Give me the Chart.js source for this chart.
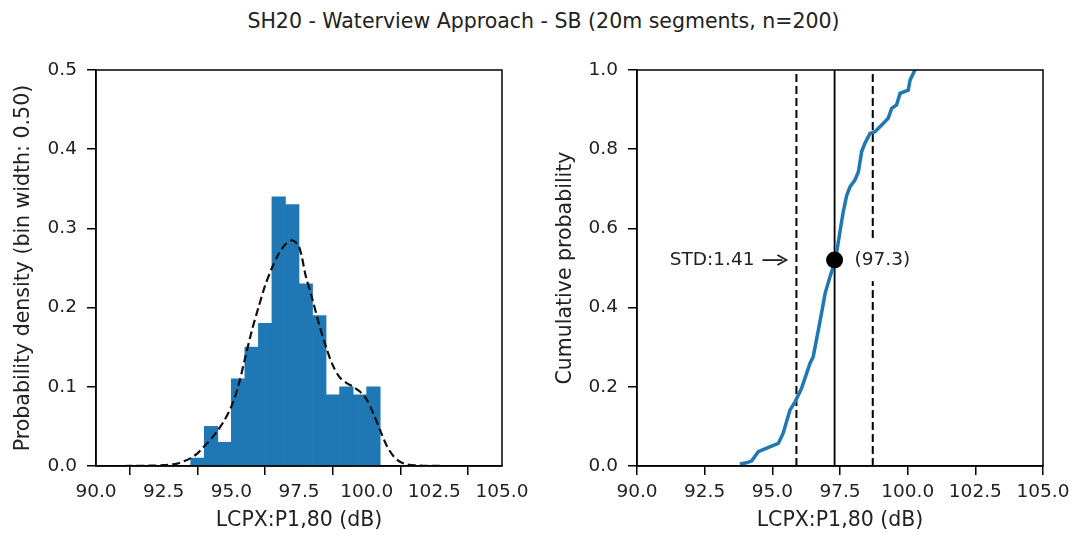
<!DOCTYPE html>
<html>
<head>
<meta charset="utf-8">
<script src="https://cdn.jsdelivr.net/npm/chart.js@4.4.0/dist/chart.umd.min.js"></script>
<style>
  body { margin: 0; background: #fff; }
  .page { position: relative; width: 1078px; height: 535px; font-family: "DejaVu Sans", sans-serif; }
  .title { position: absolute; left: 0; width: 1087px; top: 9px; text-align: center; font-size: 20.5px; color: #222; white-space: nowrap; }
  canvas { position: absolute; top: 0; }
  #hist { left: 0; }
  #cdf { left: 540px; }
</style>
</head>
<body>
<div class="page">
  <div class="title">SH20 - Waterview Approach - SB (20m segments, n=200)</div>
  <canvas id="hist" width="540" height="535"></canvas>
  <canvas id="cdf" width="538" height="535"></canvas>
</div>
<script>
// histogram, 0.5 dB bins (centres) and their densities
const binCenters = [93.75, 94.25, 94.75, 95.25, 95.75, 96.25, 96.75, 97.25, 97.75, 98.25, 98.75, 99.25, 99.75, 100.25];
const density = [0.01, 0.05, 0.03, 0.11, 0.15, 0.18, 0.34, 0.33, 0.23, 0.19, 0.09, 0.10, 0.09, 0.10];

// kernel density estimate
const kdeX = [90.6, 91.0, 91.5, 92.0, 92.5, 93.0, 93.25, 93.5, 93.75, 94.0, 94.25, 94.5, 94.75, 95.0, 95.25, 95.5,
  95.75, 96.0, 96.25, 96.5, 96.75, 97.0, 97.25, 97.5, 97.75, 98.0, 98.25, 98.5, 98.75, 99.0, 99.25, 99.5, 99.75,
  100.0, 100.25, 100.5, 100.75, 101.0, 101.25, 101.5, 102.0, 102.5, 103.0, 103.45];
const kdeY = [0, 0, 0.0002, 0.0005, 0.001, 0.003, 0.006, 0.01, 0.016, 0.025, 0.034, 0.045, 0.058, 0.075, 0.1, 0.135,
  0.17, 0.2, 0.228, 0.25, 0.268, 0.28, 0.285, 0.277, 0.24, 0.21, 0.178, 0.15, 0.127, 0.112, 0.105, 0.1, 0.094,
  0.084, 0.066, 0.045, 0.025, 0.012, 0.005, 0.002, 0.0005, 0.0001, 0, 0];

// cumulative distribution
const cdfX = [93.80, 94.05, 94.24, 94.48, 94.79, 95.22, 95.40, 95.65, 95.84, 96.08, 96.39, 96.51, 96.70, 96.86, 96.95,
  97.13, 97.25, 97.38, 97.50, 97.62, 97.75, 97.87, 98.05, 98.18, 98.30, 98.42, 98.61, 98.79, 99.04, 99.28, 99.41,
  99.59, 99.72, 100.02, 100.09, 100.27];
const cdfY = [0.005, 0.008, 0.013, 0.036, 0.045, 0.057, 0.083, 0.141, 0.162, 0.196, 0.259, 0.276, 0.343, 0.402, 0.436,
  0.478, 0.503, 0.541, 0.592, 0.642, 0.684, 0.705, 0.722, 0.743, 0.794, 0.815, 0.840, 0.844, 0.861, 0.878, 0.903,
  0.912, 0.941, 0.949, 0.975, 1.0];

const meanValue = 97.3;
const stdValue = 1.41;
const meanCdf = 0.52;

const textColor = "#222";
const blue = "#1f77b4";
const tickFont = { family: "DejaVu Sans", size: 18.5 };
const labelFont = { family: "DejaVu Sans", size: 20.5 };

Chart.defaults.font.family = "DejaVu Sans";
Chart.defaults.color = textColor;

// box around the plot area (top and right spines)
const frame = {
  id: "frame",
  afterDraw(chart) {
    const { ctx, chartArea: a } = chart;
    ctx.save();
    ctx.strokeStyle = "#000";
    ctx.lineWidth = 1.5;
    ctx.strokeRect(a.left, a.top, a.right - a.left, a.bottom - a.top);
    ctx.restore();
  },
};

function axes(yMax, yStep, yTitle, yWidth, yTitlePad) {
  return {
    x: {
      type: "linear",
      min: 90,
      max: 105,
      offset: false,
      ticks: { stepSize: 2.5, callback: (v) => v.toFixed(1), font: tickFont, color: textColor, padding: 6, maxRotation: 0, autoSkip: false },
      grid: { drawOnChartArea: false, tickLength: 9, color: "#000", lineWidth: 1.5 },
      border: { color: "#000", width: 1.5 },
      title: { display: true, text: "LCPX:P1,80 (dB)", font: labelFont, color: textColor, padding: { top: 0, bottom: 2 } },
      afterFit: (s) => { s.height = 69; },
    },
    y: {
      min: 0,
      max: yMax,
      ticks: { stepSize: yStep, callback: (v) => v.toFixed(1), font: tickFont, color: textColor, padding: 10 },
      grid: { drawOnChartArea: false, tickLength: 9, color: "#000", lineWidth: 1.5 },
      border: { color: "#000", width: 1.5 },
      title: { display: true, text: yTitle, font: labelFont, color: textColor, padding: { top: yTitlePad, bottom: 0 } },
      afterFit: (s) => { s.width = yWidth; },
    },
  };
}

// left: histogram with density curve
new Chart(document.getElementById("hist"), {
  type: "bar",
  data: {
    datasets: [
      {
        type: "line",
        data: kdeX.map((x, i) => ({ x, y: kdeY[i] })),
        borderColor: "#111",
        borderWidth: 2.2,
        borderDash: [8, 4],
        pointRadius: 0,
        tension: 0.3,
        fill: false,
      },
      {
        data: binCenters.map((x, i) => ({ x, y: density[i] })),
        backgroundColor: blue,
        borderWidth: 0,
        barPercentage: 1,
        categoryPercentage: 1,
      },
    ],
  },
  options: {
    responsive: false,
    animation: false,
    layout: { padding: { left: 0, top: 70, right: 38, bottom: 0 } },
    plugins: { legend: { display: false }, tooltip: { enabled: false } },
    scales: axes(0.5, 0.1, "Probability density (bin width: 0.50)", 96, 11),
  },
  plugins: [frame],
});

// labels next to the mean point
const annotations = {
  id: "annotations",
  afterDatasetsDraw(chart) {
    const { ctx, scales: { x, y } } = chart;
    const px = x.getPixelForValue(meanValue);
    const py = y.getPixelForValue(meanCdf);
    ctx.save();
    ctx.font = '18.5px "DejaVu Sans"';
    ctx.textBaseline = "middle";
    const label = "(" + meanValue.toFixed(1) + ")";
    const tx = px + 20;
    const w = ctx.measureText(label).width;
    ctx.fillStyle = "#fff";
    ctx.fillRect(tx - 6, py - 20, w + 14, 41);
    ctx.fillStyle = textColor;
    ctx.fillText(label, tx, py);

    const sx = x.getPixelForValue(meanValue - stdValue);
    ctx.textAlign = "right";
    ctx.fillText("STD:" + stdValue.toFixed(2), sx - 42, py);
    // arrow
    ctx.strokeStyle = textColor;
    ctx.fillStyle = textColor;
    ctx.lineWidth = 1.8;
    ctx.beginPath();
    ctx.moveTo(sx - 34, py);
    ctx.lineTo(sx - 14, py);
    ctx.stroke();
    ctx.beginPath();
    ctx.moveTo(sx - 19, py - 5);
    ctx.lineTo(sx - 10, py);
    ctx.lineTo(sx - 19, py + 5);
    ctx.stroke();
    ctx.restore();
  },
};

function vline(v, dashed) {
  return {
    data: [{ x: v, y: 0 }, { x: v, y: 1 }],
    showLine: true,
    borderColor: "#000",
    borderWidth: dashed ? 2 : 1.8,
    borderDash: dashed ? [8, 4] : [],
    pointRadius: 0,
  };
}

// right: cumulative probability with mean and +/- 1 std
new Chart(document.getElementById("cdf"), {
  type: "scatter",
  data: {
    datasets: [
      { data: [{ x: meanValue, y: meanCdf }], pointRadius: 8.5, backgroundColor: "#000", borderWidth: 0 },
      {
        data: cdfX.map((x, i) => ({ x, y: cdfY[i] })),
        showLine: true,
        borderColor: blue,
        borderWidth: 3.5,
        pointRadius: 0,
      },
      vline(meanValue, false),
      vline(meanValue - stdValue, true),
      vline(meanValue + stdValue, true),
    ],
  },
  options: {
    responsive: false,
    animation: false,
    layout: { padding: { left: 0, top: 70, right: 35, bottom: 0 } },
    plugins: { legend: { display: false }, tooltip: { enabled: false } },
    scales: axes(1.0, 0.2, "Cumulative probability", 97, 13),
  },
  plugins: [frame, annotations],
});
</script>
</body>
</html>
